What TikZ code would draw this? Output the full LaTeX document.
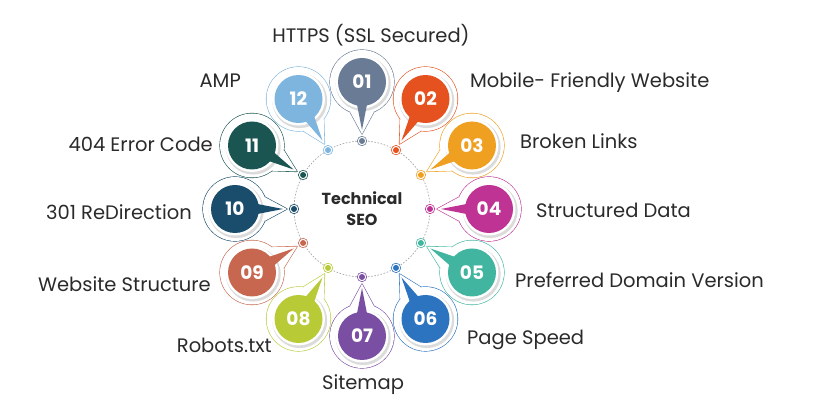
\documentclass[tikz,border=0pt]{standalone}
\usepackage{fontspec}
\setmainfont{Poppins}
\usetikzlibrary{calc}
\definecolor{c1}{HTML}{6A7C95}
\definecolor{c2}{HTML}{E6521F}
\definecolor{c3}{HTML}{EFA021}
\definecolor{c4}{HTML}{BE3393}
\definecolor{c5}{HTML}{41B59F}
\definecolor{c6}{HTML}{2C73C0}
\definecolor{c7}{HTML}{7A4FA3}
\definecolor{c8}{HTML}{B8CB37}
\definecolor{c9}{HTML}{C7674F}
\definecolor{c10}{HTML}{1A4C6C}
\definecolor{c11}{HTML}{1B5552}
\definecolor{c12}{HTML}{7EB5DF}
\definecolor{txt}{HTML}{2A2A2A}
\tikzset{
  lbl/.style={font=\fontsize{19.5}{22}\selectfont, text=txt, inner sep=0pt},
  num/.style={font=\fontsize{18.5}{20}\selectfont\bfseries, text=white, inner sep=0pt},
  ring/.style={dash pattern=on 1.6pt off 1.6pt, line width=0.7pt, draw=gray!70},
}
\begin{document}
\begin{tikzpicture}[x=1pt,y=1pt]
\useasboundingbox (0,0) rectangle (832,403);
\coordinate (C) at (362,194);
\draw[ring] (C) circle[radius=68pt];
\foreach \i/\col in {12/c12,11/c11,10/c10,9/c9,8/c8,7/c7,6/c6,5/c5,4/c4,3/c3,2/c2,1/c1}{
  \pgfmathsetmacro{\a}{90-30*(\i-1)}
  \coordinate (b\i) at ($(C)+(\a:127pt)$);
  % outer outline (circle + tail)
  \draw[\col, line width=1.2pt] (b\i) circle[radius=32pt];
  \draw[\col, line width=1.2pt, line join=round] ($(b\i)+(\a+180+22:32pt)$) -- ($(C)+(\a:75pt)$) -- ($(b\i)+(\a+180-22:32pt)$);
  \fill[white] (b\i) circle[radius=32pt];
  \fill[white] ($(b\i)+(\a+180+22:32pt)$) -- ($(C)+(\a:75pt)$) -- ($(b\i)+(\a+180-22:32pt)$) -- cycle;
  % shadow + badge
  \fill[black!14] ($(b\i)+(1.2pt,-1.6pt)$) circle[radius=27.5pt];
  \fill[white] (b\i) circle[radius=26.5pt];
  \fill[\col] ($(b\i)+(\a+180+15:21pt)$) -- ($(C)+(\a:79pt)$) -- ($(b\i)+(\a+180-15:21pt)$) -- cycle;
  \node[circle, fill=\col, minimum size=48pt, inner sep=0pt] (n\i) at (b\i) {};
  % dot
  \node[circle, draw=\col, fill=white, line width=0.6pt, minimum size=9.5pt, inner sep=0pt] (d\i) at ($(C)+(\a:68pt)$) {};
  \fill[\col] (d\i) circle[radius=3pt];
}
\node[num] at (n1) {01};
\node[num] at (n2) {02};
\node[num] at (n3) {03};
\node[num] at (n4) {04};
\node[num] at (n5) {05};
\node[num] at (n6) {06};
\node[num] at (n7) {07};
\node[num] at (n8) {08};
\node[num] at (n9) {09};
\node[num] at (n10) {10};
\node[num] at (n11) {11};
\node[num] at (n12) {12};
\node[font=\fontsize{16}{21}\selectfont\bfseries, text=txt, align=center, inner sep=0pt] (center) at (C) {Technical\\SEO};
\node[lbl, anchor=base] (l1) at (371,360) {HTTPS (SSL Secured)};
\node[lbl, anchor=base west] (l2) at (470,315) {Mobile- Friendly Website};
\node[lbl, anchor=base west] (l3) at (520,254) {Broken Links};
\node[lbl, anchor=base west] (l4) at (536,185) {Structured Data};
\node[lbl, anchor=base west] (l5) at (515,115) {Preferred Domain Version};
\node[lbl, anchor=base west] (l6) at (467,58) {Page Speed};
\node[lbl, anchor=base] (l7) at (363,13) {Sitemap};
\node[lbl, anchor=base east] (l8) at (272,50) {Robots.txt};
\node[lbl, anchor=base east] (l9) at (211,111) {Website Structure};
\node[lbl, anchor=base east] (l10) at (192,183) {301 ReDirection};
\node[lbl, anchor=base east] (l11) at (213,251) {404 Error Code};
\node[lbl, anchor=base east] (l12) at (241,315) {AMP};
\end{tikzpicture}
\end{document}
